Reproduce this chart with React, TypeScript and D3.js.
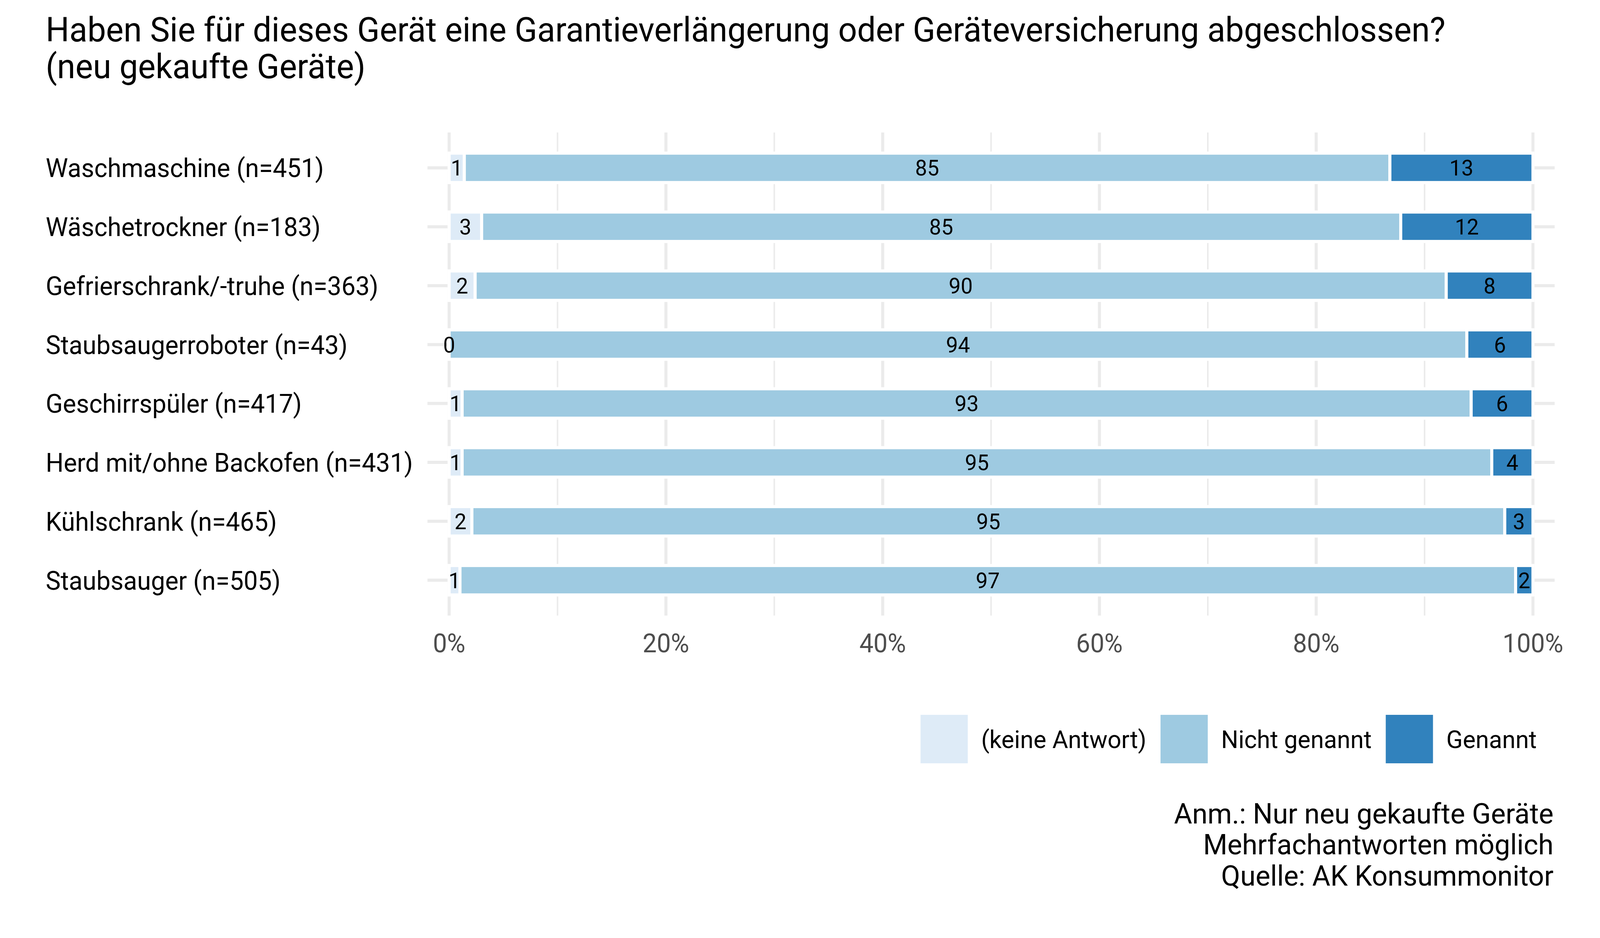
import { useRef, useEffect } from 'react';
import * as d3 from 'd3';

const W = 4200;
const H = 2400;

const categories = [
  'Waschmaschine (n=451)',
  'Wäschetrockner (n=183)',
  'Gefrierschrank/-truhe (n=363)',
  'Staubsaugerroboter (n=43)',
  'Geschirrspüler (n=417)',
  'Herd mit/ohne Backofen (n=431)',
  'Kühlschrank (n=465)',
  'Staubsauger (n=505)',
];

const seriesNames = ['(keine Antwort)', 'Nicht genannt', 'Genannt'];
const keineAntwort = [1.4, 3.0, 2.4, 0, 1.2, 1.2, 2.1, 1.0];
const nichtGenannt = [85.4, 84.8, 89.6, 93.9, 93.1, 95.0, 95.3, 97.4];
const genannt = [13.2, 12.2, 8.0, 6.1, 5.7, 3.8, 2.6, 1.6];
const colors = ['#deebf7', '#9ecae1', '#3182bd'];

const xTicks = [0, 0.2, 0.4, 0.6, 0.8, 1.0];
const xMinor = [0.1, 0.3, 0.5, 0.7, 0.9];

const titleLines = [
  'Haben Sie für dieses Gerät eine Garantieverlängerung oder Geräteversicherung abgeschlossen?',
  '(neu gekaufte Geräte)',
];
const captionLines = [
  'Anm.: Nur neu gekaufte Geräte',
  'Mehrfachantworten möglich',
  'Quelle: AK Konsummonitor',
];

// panel geometry
const P = { left: 1179, right: 4024, top: 339, bottom: 1575 };
const FONT = 'Roboto, "Noto Sans", sans-serif';
const GRID = '#ebebeb';

export default function App() {
  const svgRef = useRef<SVGSVGElement>(null);

  useEffect(() => {
    document.body.style.margin = '0';
    const svg = d3.select(svgRef.current);
    svg.selectAll('*').remove();

    svg.append('rect').attr('width', W).attr('height', H).attr('fill', '#fff');

    const x = d3.scaleLinear().domain([0, 1]).range([P.left, P.right]);
    const y = d3
      .scalePoint<string>()
      .domain(categories)
      .range([P.top, P.bottom])
      .padding(0.6);
    const barH = y.step() * 0.5;

    // title
    titleLines.forEach((t, i) => {
      svg
        .append('text')
        .attr('x', 120)
        .attr('y', 106 + i * 94)
        .attr('font-family', FONT)
        .attr('font-size', 87)
        .attr('fill', '#000')
        .text(t);
    });

    // grid
    const g = svg.append('g');
    xMinor.forEach((t) => {
      g.append('line')
        .attr('x1', x(t))
        .attr('x2', x(t))
        .attr('y1', P.top)
        .attr('y2', P.bottom)
        .attr('stroke', GRID)
        .attr('stroke-width', 4);
    });
    xTicks.forEach((t) => {
      g.append('line')
        .attr('x1', x(t))
        .attr('x2', x(t))
        .attr('y1', P.top)
        .attr('y2', P.bottom)
        .attr('stroke', GRID)
        .attr('stroke-width', 8);
    });
    categories.forEach((c) => {
      g.append('line')
        .attr('x1', x(-0.02))
        .attr('x2', x(1.02))
        .attr('y1', y(c)!)
        .attr('y2', y(c)!)
        .attr('stroke', GRID)
        .attr('stroke-width', 8);
    });

    // bars
    const series = [keineAntwort, nichtGenannt, genannt];
    categories.forEach((c, i) => {
      const cy = y(c)!;
      let acc = 0;
      series.forEach((s, k) => {
        const v = s[i] / 100;
        svg
          .append('rect')
          .attr('x', x(acc))
          .attr('y', cy - barH / 2)
          .attr('width', x(acc + v) - x(acc))
          .attr('height', barH)
          .attr('fill', colors[k])
          .attr('stroke', '#fff')
          .attr('stroke-width', 8);
        acc += v;
      });
    });

    // bar labels
    categories.forEach((c, i) => {
      const cy = y(c)!;
      let acc = 0;
      series.forEach((s) => {
        const v = s[i] / 100;
        svg
          .append('text')
          .attr('x', x(acc + v / 2))
          .attr('y', cy + 20)
          .attr('text-anchor', 'middle')
          .attr('font-family', FONT)
          .attr('font-size', 56)
          .attr('fill', '#000')
          .text(Math.round(s[i]).toString());
        acc += v;
      });
    });

    // y labels
    categories.forEach((c) => {
      svg
        .append('text')
        .attr('x', 120)
        .attr('y', y(c)! + 24)
        .attr('font-family', FONT)
        .attr('font-size', 66)
        .attr('fill', '#000')
        .text(c);
    });

    // x tick labels
    xTicks.forEach((t) => {
      svg
        .append('text')
        .attr('x', x(t))
        .attr('y', 1669)
        .attr('text-anchor', 'middle')
        .attr('font-family', FONT)
        .attr('font-size', 66)
        .attr('fill', '#4d4d4d')
        .text(d3.format('.0%')(t));
    });

    // legend, right-aligned
    const key = 124;
    const legend = svg.append('g');
    const labels = seriesNames.map((n) =>
      legend
        .append('text')
        .attr('font-family', FONT)
        .attr('font-size', 63.5)
        .attr('fill', '#000')
        .text(n)
    );
    const widths = labels.map((l) => (l.node() as SVGTextElement).getComputedTextLength());
    const total = d3.sum(widths) + seriesNames.length * (key + 35) + (seriesNames.length - 1) * 37;
    let lx = 4034 - total;
    seriesNames.forEach((_, k) => {
      legend
        .append('rect')
        .attr('x', lx)
        .attr('y', 1829)
        .attr('width', key)
        .attr('height', key)
        .attr('fill', colors[k]);
      labels[k].attr('x', lx + key + 35).attr('y', 1914);
      lx += key + 35 + widths[k] + 37;
    });

    // caption
    captionLines.forEach((t, i) => {
      svg
        .append('text')
        .attr('x', 4078)
        .attr('y', 2107 + i * 79.5)
        .attr('text-anchor', 'end')
        .attr('font-family', FONT)
        .attr('font-size', 73)
        .attr('fill', '#000')
        .text(t);
    });
  }, []);

  return (
    <svg
      ref={svgRef}
      viewBox={`0 0 ${W} ${H}`}
      preserveAspectRatio="none"
      style={{ position: 'fixed', left: 0, top: 0, width: '100vw', height: '100vh', display: 'block' }}
    />
  );
}
